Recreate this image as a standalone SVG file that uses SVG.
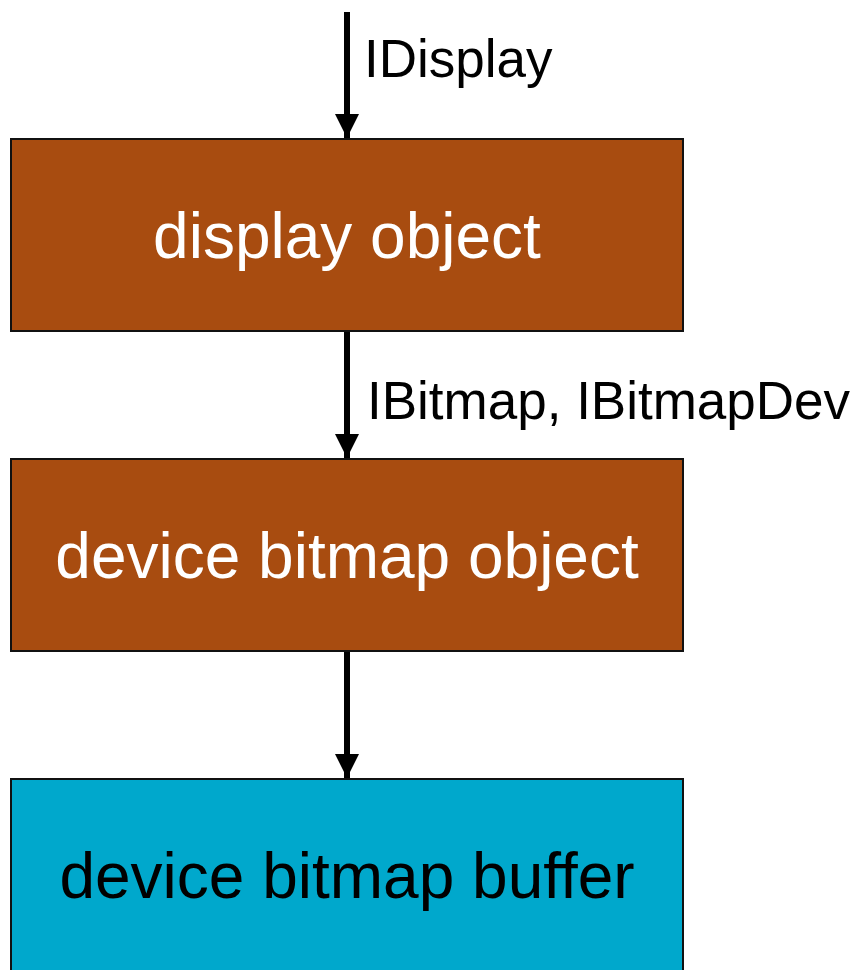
<svg xmlns="http://www.w3.org/2000/svg" width="859" height="970" viewBox="0 0 859 970">
  <style>
    .box { stroke: #111; stroke-width: 2; }
    .obj { fill: #A84C10; }
    .buf { fill: #00A8CC; }
    .name { font-family: "Liberation Sans", Arial, sans-serif; font-size: 64px; text-anchor: middle; }
    .lbl { font-family: "Liberation Sans", Arial, sans-serif; font-size: 53px; fill: #000; }
    .link { stroke: #000; stroke-width: 6; fill: none; }
  </style>
  <defs>
    <marker id="head" viewBox="0 0 24 24" refX="24" refY="12" markerWidth="24" markerHeight="24" markerUnits="userSpaceOnUse" orient="auto">
      <path d="M0,0 L24,12 L0,24 Z" fill="#000"/>
    </marker>
  </defs>

  <g id="display-object">
    <rect class="box obj" x="11" y="139" width="672" height="192"/>
    <text class="name" x="347" y="258" fill="#fff">display object</text>
  </g>

  <g id="device-bitmap-object">
    <rect class="box obj" x="11" y="459" width="672" height="192"/>
    <text class="name" x="347" y="578" fill="#fff">device bitmap object</text>
  </g>

  <g id="device-bitmap-buffer">
    <rect class="box buf" x="11" y="779" width="672" height="200"/>
    <text class="name" x="347" y="898" fill="#000">device bitmap buffer</text>
  </g>

  <g id="connectors">
    <path class="link" d="M347,12 V138" marker-end="url(#head)"/>
    <path class="link" d="M347,332 V458" marker-end="url(#head)"/>
    <path class="link" d="M347,652 V778" marker-end="url(#head)"/>
    <text class="lbl" x="364" y="77">IDisplay</text>
    <text class="lbl" x="367" y="419">IBitmap, IBitmapDev</text>
  </g>
</svg>
